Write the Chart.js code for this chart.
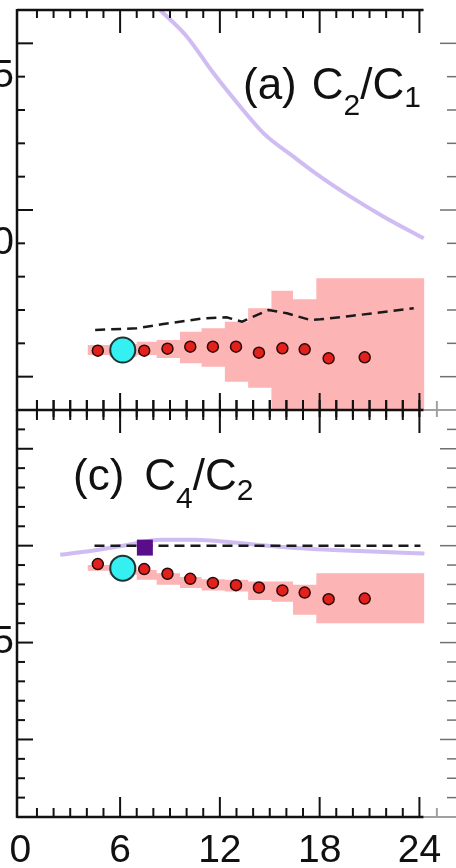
<!DOCTYPE html>
<html>
<head>
<meta charset="utf-8">
<script src="https://cdn.jsdelivr.net/npm/chart.js@4.4.1/dist/chart.umd.min.js"></script>
<style>
  html, body { margin: 0; padding: 0; background: #fff; width: 456px; height: 868px; overflow: hidden; position: relative; }
  #top { position: absolute; left: -43px; top: 0; }
  #bot { position: absolute; left: -43px; top: 400px; }
</style>
</head>
<body>
<canvas id="top" width="499" height="420"></canvas>
<canvas id="bot" width="499" height="468"></canvas>
<script>
// x axis
const xMin = -0.2, xMax = 26.2;
const xTickLabels = [0, 6, 12, 18, 24];

// measured points (same x in both panels)
const ptX = [4.66, 7.45, 8.85, 10.22, 11.58, 12.97, 14.35, 15.76, 17.1, 18.54, 20.71];
const cyanX = [6.16];
// error boxes: one per point (first, cyan, then the rest)
const boxEdges = [4.04, 5.36, 7.0, 8.2, 9.6, 10.9, 12.3, 13.7, 15.1, 16.4, 17.8, 19.6, 24.3];

// (a) C2/C1
const c21 = [0.678, 0.678, 0.684, 0.690, 0.690, 0.690, 0.672, 0.685, 0.682, 0.655, 0.658];
const c21Cyan = [0.68];
const c21Hi = [0.728, 0.695, 0.698, 0.705, 0.71, 0.735, 0.745, 0.765, 0.805, 0.858, 0.832, 0.895];
const c21Lo = [0.628, 0.665, 0.66, 0.665, 0.656, 0.64, 0.63, 0.585, 0.567, 0.45, 0.45, 0.45];
const c21DashX = [4.5, 7.0, 8.6, 11.0, 12.4, 13.33, 14.93, 16.04, 17.44, 18.04, 19.85, 23.66];
const c21Dash = [0.74, 0.745, 0.758, 0.775, 0.778, 0.765, 0.80, 0.79, 0.77, 0.772, 0.782, 0.805];
const c21PurpX = [8.41, 10.02, 11.62, 13.23, 14.63, 16.43, 18.04, 19.85, 21.85, 24.26];
const c21Purp = [1.70, 1.62, 1.51, 1.41, 1.33, 1.26, 1.20, 1.14, 1.08, 1.015];
const c21Labels = [1.0, 1.5];

// (c) C4/C2
const c42 = [0.905, 0.879, 0.855, 0.829, 0.808, 0.796, 0.784, 0.769, 0.758, 0.724, 0.727];
const c42Cyan = [0.884];
const c42Hi = [0.918, 0.90, 0.90, 0.875, 0.858, 0.838, 0.827, 0.824, 0.815, 0.815, 0.798, 0.858];
const c42Lo = [0.892, 0.87, 0.85, 0.824, 0.798, 0.781, 0.769, 0.763, 0.72, 0.71, 0.643, 0.60];
const c42DashX = [4.46, 24.06];
const c42Dash = [1.0, 1.0];
const c42PurpX = [2.4, 4.6, 6.5, 8.4, 10.5, 12.8, 15.5, 18.8, 21.5, 24.3];
const c42Purp = [0.953, 0.978, 1.005, 1.03, 1.03, 1.016, 0.995, 0.978, 0.968, 0.96];
const c42SquareX = [7.49];
const c42Square = [0.99];
const c42Labels = [0.5];

const FONT = '"Liberation Sans", Arial, Helvetica, sans-serif';

function pts(xs, ys) {
    return xs.map(function (x, i) { return { x: x, y: ys[i] }; });
}
// stepped outline of the boxes
function steps(edges, vals) {
    var out = vals.map(function (v, i) { return { x: edges[i], y: v }; });
    out.push({ x: edges[edges.length - 1], y: vals[vals.length - 1] });
    return out;
}

function seg(ctx, x1, y1, x2, y2) {
    ctx.beginPath();
    ctx.moveTo(x1, y1);
    ctx.lineTo(x2, y2);
    ctx.stroke();
}

const framePlugin = {
    id: 'frame',
    afterDatasetsDraw(chart, args, o) {
        const ctx = chart.ctx, a = chart.chartArea;
        const xs = chart.scales.x, ys = chart.scales.y;
        const xEnd = xs.getPixelForValue(24.25);
        ctx.save();

        // grey stub at the right
        ctx.strokeStyle = '#a0a0a0';
        ctx.lineWidth = 2;
        seg(ctx, xEnd, a.bottom, a.right, a.bottom);
        const gx = xs.getPixelForValue(25.05);
        seg(ctx, gx, a.bottom - 9, gx, a.bottom + o.stubDown);

        // right side ticks
        ctx.strokeStyle = '#707070';
        ctx.lineWidth = 1.5;
        const k0 = Math.round(ys.min * 10), k1 = Math.round(ys.max * 10);
        for (let k = k0 + 1; k < k1; k++) {
            const v = k / 10;
            const py = ys.getPixelForValue(v);
            const long = o.longY.some(function (l) { return Math.abs(l - v) < 1e-6; });
            seg(ctx, a.right, py, a.right - (long ? 16 : 9), py);
        }

        // frame
        ctx.strokeStyle = '#111';
        ctx.lineWidth = 2.5;
        seg(ctx, a.left, a.top - (o.topLine ? 1 : 0), a.left, a.bottom + 1);
        if (o.topLine) seg(ctx, a.left, a.top, xEnd, a.top);
        seg(ctx, a.left, a.bottom, xEnd, a.bottom);

        // left ticks
        ctx.lineWidth = 2;
        for (let k = k0 + 1; k < k1; k++) {
            const v = k / 10;
            const py = ys.getPixelForValue(v);
            const long = o.longY.some(function (l) { return Math.abs(l - v) < 1e-6; });
            seg(ctx, a.left, py, a.left + (long ? 16 : 8), py);
        }

        // x ticks on top and bottom edges
        for (let v = 1; v <= 24; v++) {
            const px = xs.getPixelForValue(v);
            const major = v % 6 === 0;
            const t = major ? o.topMajor : o.topMinor;
            const b = major ? o.botMajor : o.botMinor;
            seg(ctx, px, a.top - t[1], px, a.top + t[0]);
            seg(ctx, px, a.bottom + b[1], px, a.bottom - b[0]);
        }

        // panel label
        ctx.fillStyle = '#111';
        ctx.textBaseline = 'alphabetic';
        ctx.textAlign = 'left';
        let cx = a.left + o.title.dx;
        const by = a.top + o.title.dy;
        o.title.parts.forEach(function (p) {
            if (p.gap) { cx += p.gap; return; }
            ctx.font = p.s + 'px ' + FONT;
            ctx.fillText(p.t, cx, by + (p.dy || 0));
            cx += ctx.measureText(p.t).width;
        });
        ctx.restore();
    }
};

function yScale(min, max, labels) {
    return {
        type: 'linear',
        min: min,
        max: max,
        grid: { display: false, drawTicks: false },
        border: { display: false },
        ticks: {
            font: { family: FONT, size: 39 },
            color: '#111',
            padding: 3,
            autoSkip: false,
            callback: function (v) { return v.toFixed(1); }
        },
        afterBuildTicks: function (s) { s.ticks = labels.map(function (v) { return { value: v }; }); },
        afterFit: function (s) { s.width = 60; s.paddingTop = 0; s.paddingBottom = 0; }
    };
}

function panelSets(vals, cyanVal, hi, lo, dashX, dash, purpX, purp, extra) {
    var sets = [
        {
            data: pts(cyanX, cyanVal), showLine: false,
            pointRadius: 12.5, pointBorderWidth: 2,
            pointBackgroundColor: '#35f0f0', pointBorderColor: '#1b3535'
        },
        {
            data: pts(ptX, vals), showLine: false,
            pointRadius: 5.5, pointBorderWidth: 1.5,
            pointBackgroundColor: '#e3211c', pointBorderColor: '#2a0808'
        },
        {
            data: pts(dashX, dash), borderColor: '#1a1a1a', borderWidth: 2.5,
            borderDash: [10, 6], pointRadius: 0, tension: 0, clip: 0
        },
        {
            data: pts(purpX, purp), borderColor: 'rgba(188,162,238,0.72)', borderWidth: 4,
            pointRadius: 0, cubicInterpolationMode: 'monotone', clip: 0
        },
        {
            data: steps(boxEdges, lo), stepped: 'after', borderWidth: 0,
            pointRadius: 0, fill: false, clip: 0
        },
        {
            data: steps(boxEdges, hi), stepped: 'after', borderWidth: 0,
            pointRadius: 0, fill: '-1', backgroundColor: '#fdb4b4', clip: 0
        }
    ];
    if (extra) sets.unshift(extra);
    return sets;
}

const baseOpts = {
    responsive: false,
    animation: false,
    devicePixelRatio: 1,
    plugins: {
        legend: { display: false },
        tooltip: { enabled: false },
        filler: { drawTime: 'beforeDatasetsDraw' }
    }
};

new Chart(document.getElementById('top'), {
    type: 'line',
    data: { datasets: panelSets(c21, c21Cyan, c21Hi, c21Lo, c21DashX, c21Dash, c21PurpX, c21Purp) },
    options: Object.assign({}, baseOpts, {
        layout: { autoPadding: false, padding: { top: 10, bottom: 10, left: 0, right: 0 } },
        plugins: Object.assign({}, baseOpts.plugins, {
            frame: {
                topLine: true, stubDown: 7,
                longY: [0.6, 1.1, 1.6],
                topMinor: [8, 0], topMajor: [23, 0],
                botMinor: [10, 7], botMajor: [17, 7],
                title: {
                    dx: 226, dy: 89,
                    parts: [
                        { t: '(a)', s: 44 }, { gap: 15 }, { t: 'C', s: 44 },
                        { t: '2', s: 30, dy: 16 }, { t: '/', s: 44 }, { t: 'C', s: 44 },
                        { t: '1', s: 30, dy: 8 }
                    ]
                }
            }
        }),
        scales: {
            x: { type: 'linear', min: xMin, max: xMax, display: false },
            y: yScale(0.5, 1.7, c21Labels)
        }
    }),
    plugins: [framePlugin]
});

new Chart(document.getElementById('bot'), {
    type: 'line',
    data: {
        datasets: panelSets(c42, c42Cyan, c42Hi, c42Lo, c42DashX, c42Dash, c42PurpX, c42Purp, {
            data: pts(c42SquareX, c42Square), showLine: false, pointStyle: 'rect',
            pointRadius: 11.3, pointBorderWidth: 0,
            pointBackgroundColor: '#5a0d8a', pointBorderColor: '#5a0d8a'
        })
    },
    options: Object.assign({}, baseOpts, {
        layout: { autoPadding: false, padding: { top: 10, bottom: 0, left: 0, right: 0 } },
        plugins: Object.assign({}, baseOpts.plugins, {
            frame: {
                topLine: false, stubDown: 0,
                longY: [0.0, 0.5, 1.0, 1.5],
                topMinor: [10, 10], topMajor: [23, 10],
                botMinor: [9, 0], botMajor: [20, 0],
                title: {
                    dx: 56, dy: 80,
                    parts: [
                        { t: '(c)', s: 44 }, { gap: 20 }, { t: 'C', s: 44 },
                        { t: '4', s: 30, dy: 18 }, { t: '/', s: 44 }, { t: 'C', s: 44 },
                        { t: '2', s: 30, dy: 10 }
                    ]
                }
            }
        }),
        scales: {
            x: {
                type: 'linear', min: xMin, max: xMax, position: 'bottom',
                grid: { display: false, drawTicks: false },
                border: { display: false },
                ticks: {
                    font: { family: FONT, size: 39 }, color: '#111',
                    padding: 11, maxRotation: 0, autoSkip: false
                },
                afterBuildTicks: function (s) { s.ticks = xTickLabels.map(function (v) { return { value: v }; }); },
                afterFit: function (s) { s.height = 51; s.paddingLeft = 0; s.paddingRight = 0; }
            },
            y: yScale(-0.4, 1.7, c42Labels)
        }
    }),
    plugins: [framePlugin]
});
</script>
</body>
</html>
